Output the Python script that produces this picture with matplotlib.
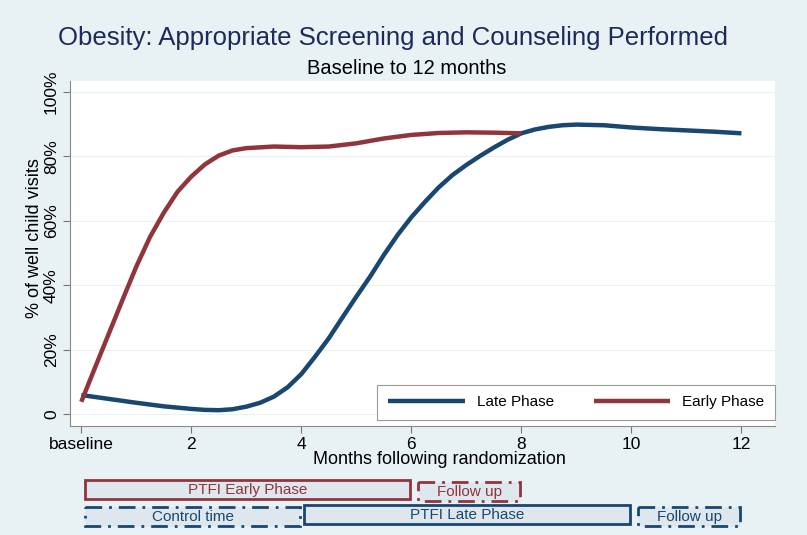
import matplotlib
matplotlib.use("Agg")
import matplotlib.pyplot as plt
from matplotlib.patches import Rectangle

plt.rcParams['font.family'] = ['Liberation Sans', 'DejaVu Sans']

# Late phase: months and % of well child visits
late_months = [0, 0.5, 1.0, 1.5, 2.0, 2.25, 2.5, 2.75, 3.0, 3.25, 3.5, 3.75,
               4.0, 4.25, 4.5, 4.75, 5.0, 5.25, 5.5, 5.75, 6.0, 6.25, 6.5, 6.75,
               7.0, 7.25, 7.5, 7.75, 8.0, 8.25, 8.5, 8.75, 9.0, 9.5, 10.0, 10.5,
               11.0, 11.5, 12.0]
late_pct = [6.0, 4.8, 3.6, 2.5, 1.7, 1.4, 1.3, 1.6, 2.4, 3.6, 5.5, 8.4,
            12.5, 17.9, 23.6, 30.1, 36.5, 42.7, 49.4, 55.6, 61.1, 65.9, 70.4, 74.2,
            77.3, 80.1, 82.7, 85.1, 87.1, 88.3, 89.1, 89.6, 89.8, 89.6, 88.9, 88.4,
            88.0, 87.6, 87.1]

# Early phase
early_months = [0, 0.25, 0.5, 0.75, 1.0, 1.25, 1.5, 1.75, 2.0, 2.25, 2.5, 2.75,
                3.0, 3.5, 4.0, 4.5, 5.0, 5.5, 6.0, 6.5, 7.0, 7.5, 8.0]
early_pct = [3.9, 14.5, 25.0, 35.5, 45.8, 55.0, 62.5, 69.0, 73.7, 77.5, 80.2, 81.8,
             82.5, 83.0, 82.8, 83.0, 84.0, 85.5, 86.6, 87.2, 87.4, 87.3, 87.1]

x_ticks = [0, 2, 4, 6, 8, 10, 12]
x_ticklabels = ['baseline', '2', '4', '6', '8', '10', '12']
y_ticks = [0, 20, 40, 60, 80, 100]
y_ticklabels = ['0', '20%', '40%', '60%', '80%', '100%']

# Study phases shown under the axis: (label, start month, end month)
early_phases = [('PTFI Early Phase', 0, 6), ('Follow up', 6, 8)]
late_phases = [('Control time', 0, 4), ('PTFI Late Phase', 4, 10), ('Follow up', 10, 12)]

blue = '#1a476f'
red = '#90353b'
bg = '#e8f1f3'
box_fill = '#dde7ed'

W, H = 807, 535
fig = plt.figure(figsize=(W / 100, H / 100), dpi=100, facecolor=bg)

# main plot area (pixel based layout)
left, right, top, bottom = 70, 775, 80.7, 425.7
ax = fig.add_axes([left / W, 1 - bottom / H, (right - left) / W, (bottom - top) / H])
ax.set_facecolor('white')
xlim = (-0.205, 12.61)
ax.set_xlim(*xlim)
ax.set_ylim(-3.5, 103.4)

ax.plot(late_months, late_pct, color=blue, lw=3.2, label='Late Phase',
        solid_capstyle='butt', solid_joinstyle='round', zorder=3)
ax.plot(early_months, early_pct, color=red, lw=3.2, label='Early Phase',
        solid_capstyle='butt', solid_joinstyle='round', zorder=3)

ax.set_yticks(y_ticks)
ax.set_yticklabels(y_ticklabels, rotation=90, va='center', fontsize=12.5)
ax.set_xticks(x_ticks)
ax.set_xticklabels(x_ticklabels, fontsize=12.5)
ax.tick_params(axis='both', color='#777777', length=5, width=0.8, pad=3)
ax.grid(axis='y', color='#eaf1f3', lw=0.9)
ax.set_axisbelow(True)
for s in ['top', 'right']:
    ax.spines[s].set_visible(False)
for s in ['left', 'bottom']:
    ax.spines[s].set_color('#888888')
    ax.spines[s].set_linewidth(0.8)

# axis titles placed like the original (not centred on the plot region)
fig.text(35 / W, 1 - 238 / H, '% of well child visits', rotation=90,
         ha='center', va='center', fontsize=13)
fig.text(439 / W, 1 - 459 / H, 'Months following randomization',
         ha='center', va='center', fontsize=13)

leg = ax.legend(loc='lower right', bbox_to_anchor=(1.0, 0.016), ncol=2,
                fontsize=11, handlelength=5.0, handletextpad=0.8,
                columnspacing=2.6, borderpad=0.7, fancybox=False,
                framealpha=1, edgecolor='#999999', borderaxespad=0)
leg.get_frame().set_linewidth(0.8)

fig.text(393.5 / W, 1 - 38 / H, 'Obesity: Appropriate Screening and Counseling Performed',
         ha='center', va='center', fontsize=18.5, color='#1c2b5a')
fig.text(407 / W, 1 - 69 / H, 'Baseline to 12 months',
         ha='center', va='center', fontsize=14.5, color='black')

# phase boxes below the axis, same month scale
ax2 = fig.add_axes([left / W, 1 - 532 / H, (right - left) / W, (532 - 474) / H])
ax2.set_xlim(*xlim)
ax2.set_ylim(532, 474)
ax2.axis('off')

dashdot = (0, (6, 2.5, 1, 2.5))
rows = [(early_phases, red, 480, 19, ['-', dashdot]),
        (late_phases, blue, 505, 19, [dashdot, '-', dashdot])]
for phases, col, y0, h, styles in rows:
    for (label, start, end), ls in zip(phases, styles):
        pad = 0.0 if ls == '-' else 0.08
        x0 = start + 0.07 if start == 0 else start + 0.04 + pad
        x1 = end - 0.02
        yy = y0 + (0 if ls == '-' else 2)
        ax2.add_patch(Rectangle((x0, yy), x1 - x0, h, facecolor=box_fill,
                                edgecolor=col, lw=2, linestyle=ls))
        ax2.text((x0 + x1) / 2, yy + h / 2 + 0.5, label, ha='center', va='center',
                 fontsize=11, color=col)

fig.savefig('out.png', dpi=100, facecolor=bg)
